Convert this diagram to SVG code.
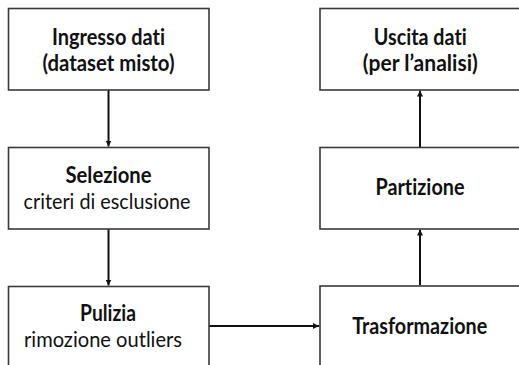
<svg xmlns="http://www.w3.org/2000/svg" width="519" height="365" viewBox="0 0 519 365">
<style>
  .box { fill: #ffffff; stroke: #3a3a3a; stroke-width: 1.6; }
  .t { font-family: Lato, "Open Sans", "Liberation Sans", sans-serif; font-size: 22px; fill: #111111; text-anchor: middle; font-variant-ligatures: none; font-feature-settings: "liga" 0, "clig" 0; }
  .b { font-weight: bold; }
  .conn { stroke: #111111; stroke-width: 2; fill: none; marker-end: url(#arr); }
</style>
<defs>
  <marker id="arr" viewBox="0 0 10 10" refX="10" refY="5" markerWidth="3" markerHeight="3" orient="auto" markerUnits="strokeWidth">
    <path d="M0,0 L10,5 L0,10 Z" fill="#111111"/>
  </marker>
</defs>
<rect width="519" height="365" fill="#ffffff"/>
<g id="connectors">
  <line class="conn" x1="108.5" y1="90" x2="108.5" y2="146.5"/>
  <line class="conn" x1="108.5" y1="229" x2="108.5" y2="285.5"/>
  <line class="conn" x1="209" y1="326" x2="319" y2="326"/>
  <line class="conn" x1="420" y1="285" x2="420" y2="229.5"/>
  <line class="conn" x1="420" y1="147" x2="420" y2="90.5"/>
</g>
<g id="ingresso">
  <rect class="box" x="8.5" y="8.5" width="200.5" height="81.5"/>
  <text class="t b" x="108.5" y="45" textLength="113" lengthAdjust="spacingAndGlyphs">Ingresso dati</text>
  <text class="t b" x="108.5" y="70.5" textLength="132" lengthAdjust="spacingAndGlyphs">(dataset misto)</text>
</g>
<g id="selezione">
  <rect class="box" x="8.5" y="147.5" width="200.5" height="81.5"/>
  <text class="t b" x="108.5" y="182.5" textLength="86" lengthAdjust="spacingAndGlyphs">Selezione</text>
  <text class="t" x="107" y="208.5" textLength="167" lengthAdjust="spacingAndGlyphs">criteri di esclusione</text>
</g>
<g id="pulizia">
  <rect class="box" x="8.5" y="286.5" width="200.5" height="82"/>
  <text class="t b" x="108" y="321" textLength="56" lengthAdjust="spacingAndGlyphs">Pulizia</text>
  <text class="t" x="103" y="347" textLength="158" lengthAdjust="spacingAndGlyphs">rimozione outliers</text>
</g>
<g id="uscita">
  <rect class="box" x="320" y="8.5" width="202" height="81.5"/>
  <text class="t b" x="420.3" y="45" textLength="93" lengthAdjust="spacingAndGlyphs">Uscita dati</text>
  <text class="t b" x="420.3" y="70.5" textLength="115" lengthAdjust="spacingAndGlyphs">(per l’analisi)</text>
</g>
<g id="partizione">
  <rect class="box" x="320" y="147.5" width="202" height="81.5"/>
  <text class="t b" x="420" y="195" textLength="89" lengthAdjust="spacingAndGlyphs">Partizione</text>
</g>
<g id="trasformazione">
  <rect class="box" x="320" y="286" width="202" height="82"/>
  <text class="t b" x="419.7" y="333.5" textLength="135" lengthAdjust="spacingAndGlyphs">Trasformazione</text>
</g>
</svg>
